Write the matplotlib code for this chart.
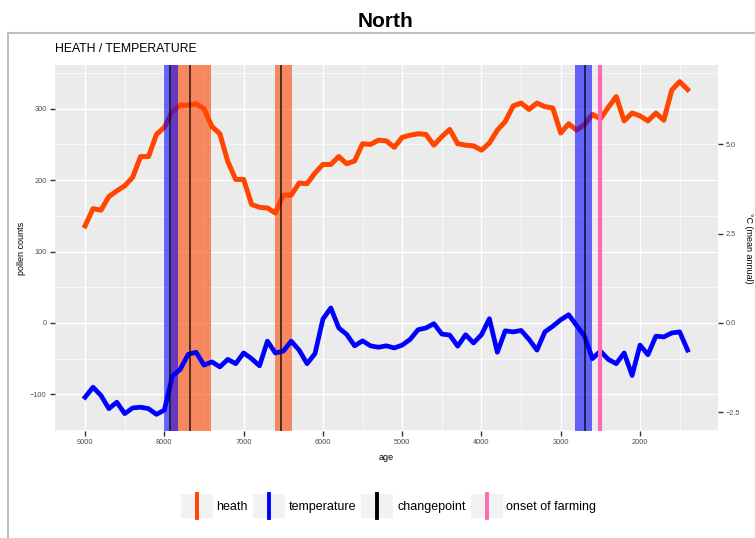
import matplotlib
matplotlib.use("Agg")
import matplotlib.pyplot as plt
from matplotlib.lines import Line2D
from matplotlib.patches import Rectangle
from matplotlib.legend_handler import HandlerBase
from matplotlib.ticker import FuncFormatter
import numpy as np

plt.rcParams["font.family"] = ["Liberation Sans", "DejaVu Sans"]

# samples every 100 years, oldest first
ages = list(range(9000, 1399, -100))

heath = [136, 160, 158, 177, 185, 192, 204, 233, 233, 264,
         274, 296, 305, 305, 307, 300, 275, 265, 226, 201,
         201, 166, 162, 161, 154, 179, 179, 196, 195, 210,
         222, 222, 233, 223, 227, 251, 250, 256, 255, 246,
         260, 263, 265, 264, 249, 261, 271, 251, 249, 248,
         242, 252, 270, 282, 304, 308, 299, 308, 303, 301,
         266, 279, 270, 278, 292, 286, 302, 317, 283, 294,
         290, 283, 294, 284, 326, 338, 327]

# mean annual temperature, degrees C
temperature = [-2.08, -1.80, -2.03, -2.40, -2.22, -2.54, -2.38, -2.36, -2.40, -2.56,
               -2.44, -1.49, -1.30, -0.88, -0.82, -1.18, -1.09, -1.23, -1.02, -1.14,
               -0.84, -1.00, -1.20, -0.51, -0.84, -0.79, -0.51, -0.76, -1.14, -0.86,
               0.11, 0.42, -0.14, -0.32, -0.64, -0.50, -0.64, -0.68, -0.64, -0.70,
               -0.62, -0.46, -0.19, -0.14, -0.02, -0.31, -0.34, -0.65, -0.33, -0.56,
               -0.33, 0.12, -0.82, -0.22, -0.25, -0.21, -0.46, -0.76, -0.25, -0.09,
               0.09, 0.23, -0.07, -0.37, -1.00, -0.79, -1.02, -1.14, -0.84, -1.47,
               -0.62, -0.89, -0.37, -0.39, -0.28, -0.25, -0.76]

heath_changepoints = [7680, 6535]
heath_ci = [(7920, 7410), (6600, 6390)]
temp_changepoints = [7930, 2690]
temp_ci = [(8000, 7825), (2820, 2600)]
farming_onset = 2500

DEG_SCALE = 50  # pollen counts per degree on the shared panel

HEATH_COL = "#FF4500"
TEMP_COL = "#0000FF"
CP_COL = "black"
FARM_COL = "#FF69B4"

# limits with 5% padding, like ggplot
temp_scaled = np.array(temperature) * DEG_SCALE
ylo = min(min(heath), temp_scaled.min())
yhi = max(max(heath), temp_scaled.max())
ypad = 0.05 * (yhi - ylo)
xpad = 0.05 * (max(ages) - min(ages))

fig = plt.figure(figsize=(7.55, 5.38), dpi=100)

# grey frame around the panel (right and bottom edges run off the page)
frame_top = 1 - 33.3 / 538
fig.patches.append(Rectangle((8 / 755, -0.2), 1.2, frame_top + 0.2,
                             transform=fig.transFigure, fill=False,
                             ec="#BEBEBE", lw=1.5, clip_on=False))

fig.text(0.51, 1 - 26.7 / 538, "North", ha="center", va="baseline",
         fontsize=15, fontweight="bold")
fig.text(55 / 755, 1 - 52.3 / 538, "HEATH / TEMPERATURE", ha="left",
         va="baseline", fontsize=8.8)

ax = fig.add_axes([0.0728, 0.1989, 0.8778, 0.6803])
ax.set_facecolor("#EBEBEB")
for s in ax.spines.values():
    s.set_visible(False)

ax.set_xlim(max(ages) + xpad, min(ages) - xpad)
ax.set_ylim(ylo - ypad, yhi + ypad)
ax.set_xticks([9000, 8000, 7000, 6000, 5000, 4000, 3000, 2000])
ax.set_xticks([8500, 7500, 6500, 5500, 4500, 3500, 2500, 1500], minor=True)
ax.set_yticks([-100, 0, 100, 200, 300])
ax.set_yticks([-150, -50, 50, 150, 250, 350], minor=True)
ax.grid(which="major", color="white", lw=1.0)
ax.grid(which="minor", color="white", lw=0.5)
ax.set_axisbelow(True)
ax.tick_params(which="major", length=3.5, width=1.0, color="#333333",
               labelsize=5.3, labelcolor="#4D4D4D", pad=2.5)
ax.tick_params(which="minor", length=0)

ax.plot(ages, heath, color=HEATH_COL, lw=3.6, zorder=2)

for a, b in heath_ci:
    ax.axvspan(a, b, color=HEATH_COL, alpha=0.6, lw=0, zorder=3)
for a, b in temp_ci:
    ax.axvspan(a, b, color=TEMP_COL, alpha=0.58, lw=0, zorder=3)

# temperature on its own scale to the right
ax2 = ax.twinx()
ax2.set_ylim((ylo - ypad) / DEG_SCALE, (yhi + ypad) / DEG_SCALE)
ax2.set_yticks([-2.5, 0.0, 2.5, 5.0])
ax2.yaxis.set_major_formatter(FuncFormatter(lambda v, p: f"{v:.1f}".replace("-", "\u2212")))
for s in ax2.spines.values():
    s.set_visible(False)
ax2.tick_params(axis="y", length=3.5, width=1.0, color="#333333",
                labelsize=5.3, labelcolor="#4D4D4D", pad=2.5)

ax2.plot(ages, temperature, color=TEMP_COL, lw=3.4, zorder=2)
for cp in heath_changepoints + temp_changepoints:
    ax2.axvline(cp, color=CP_COL, lw=1.1, alpha=0.85, zorder=3)
ax2.axvline(farming_onset, color=FARM_COL, lw=3.0, zorder=3)

fig.text(21 / 755, 1 - 248 / 538, "pollen counts", rotation=90,
         ha="center", va="center", fontsize=6.5)
fig.text(749 / 755, 1 - 248 / 538, "°C (mean annual)", rotation=-90,
         ha="center", va="center", fontsize=6.5)
fig.text(386.4 / 755, 1 - 457 / 538, "age", ha="center", va="center",
         fontsize=6.5)


class VLineKey(HandlerBase):
    """ggplot-style key: grey square with a vertical line through it."""

    def create_artists(self, legend, orig_handle, xdescent, ydescent,
                       width, height, fontsize, trans):
        x0, y0 = -xdescent, -ydescent
        bg = Rectangle((x0, y0), width, height, fc="#F2F2F2", ec="none",
                       transform=trans)
        ln = Line2D([x0 + width / 2] * 2, [y0, y0 + height],
                    color=orig_handle.get_color(), lw=orig_handle.get_linewidth(),
                    transform=trans)
        return [bg, ln]


handles = [Line2D([], [], color=c, lw=2.8)
           for c in (HEATH_COL, TEMP_COL, CP_COL, FARM_COL)]
labels = ["heath", "temperature", "changepoint", "onset of farming"]
fig.legend(handles, labels, loc="center", bbox_to_anchor=(0.5146, 1 - 506 / 538),
           ncol=4, frameon=False, fontsize=9, borderpad=0,
           handlelength=2.56, handleheight=2.56, handletextpad=0.3,
           columnspacing=0.4, handler_map={Line2D: VLineKey()})

fig.savefig("out.png", dpi=100)
